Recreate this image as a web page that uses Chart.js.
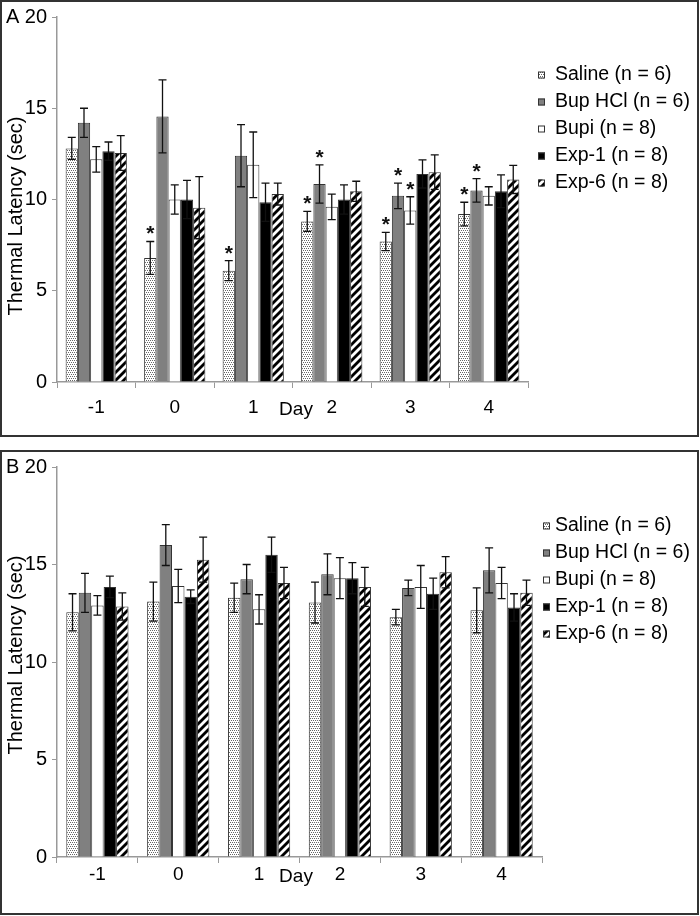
<!DOCTYPE html>
<html>
<head>
<meta charset="utf-8">
<script src="https://cdn.jsdelivr.net/npm/chart.js@4.4.1/dist/chart.umd.min.js"></script>
<style>
    html, body { margin: 0; padding: 0; background: #fff; }
    .panel { position: absolute; left: 0; width: 700px; }
    #wrapA { top: 0; height: 438px; }
    #wrapB { top: 450px; height: 466px; }
</style>
</head>
<body>
<div class="panel" id="wrapA"><canvas id="chartA"></canvas></div>
<div class="panel" id="wrapB"><canvas id="chartB"></canvas></div>
<script>
// Thermal latency per day, two panels (A, B)
const days = ['-1', '0', '1', '2', '3', '4'];
const groupNames = ['Saline (n = 6)', 'Bup HCl (n = 6)', 'Bupi (n = 8)', 'Exp-1 (n = 8)', 'Exp-6 (n = 8)'];
const yTicks = [0, 5, 10, 15, 20];

// Panel A
const salineA = [12.8, 6.8, 6.1, 8.8, 7.7, 9.2];
const bupHclA = [14.2, 14.55, 12.4, 10.85, 10.2, 10.5];
const bupiA   = [12.2, 10.0, 11.9, 9.6, 9.4, 10.2];
const exp1A   = [12.65, 10.0, 9.85, 10.0, 11.4, 10.45];
const exp6A   = [12.55, 9.55, 10.3, 10.45, 11.5, 11.1];
const salineErrA = [0.6, 0.9, 0.55, 0.55, 0.5, 0.65];
const bupHclErrA = [0.8, 2.0, 1.7, 1.05, 0.7, 0.64];
const bupiErrA   = [0.7, 0.8, 1.8, 0.7, 0.75, 0.5];
const exp1ErrA   = [0.5, 1.05, 1.05, 0.8, 0.77, 0.9];
const exp6ErrA   = [0.95, 1.7, 0.6, 0.55, 0.95, 0.77];
const salineStarA = [false, true, true, true, true, true];
const bupHclStarA = [false, false, false, true, true, true];
const bupiStarA   = [false, false, false, false, true, false];

// Panel B
const salineB = [12.55, 13.1, 13.3, 13.05, 12.3, 12.65];
const bupHclB = [13.55, 16.0, 14.25, 14.5, 13.8, 14.7];
const bupiB   = [12.9, 13.9, 12.7, 14.3, 13.85, 14.05];
const exp1B   = [13.85, 13.35, 15.5, 14.3, 13.5, 12.8];
const exp6B   = [12.85, 15.25, 14.05, 13.85, 14.6, 13.55];
const salineErrB = [0.95, 1.0, 0.75, 1.05, 0.4, 1.15];
const bupHclErrB = [1.0, 1.05, 0.75, 1.05, 0.4, 1.15];
const bupiErrB   = [0.5, 0.85, 0.75, 1.05, 1.1, 0.8];
const exp1ErrB   = [0.55, 0.35, 0.9, 0.8, 0.8, 0.7];
const exp6ErrB   = [0.7, 1.15, 0.8, 1.0, 0.8, 0.65];

const FONT = "'Liberation Sans', Arial, sans-serif";
Chart.defaults.font.family = FONT;
Chart.defaults.color = '#000';

// --- fill patterns ---
function dotPattern() {
    const c = document.createElement('canvas');
    c.width = 4; c.height = 4;
    const g = c.getContext('2d');
    g.fillStyle = '#fff'; g.fillRect(0, 0, 4, 4);
    g.fillStyle = '#666';
    g.fillRect(0, 0, 1, 1);
    g.fillRect(2, 0, 1, 1);
    g.fillRect(1, 2, 1, 1);
    g.fillRect(3, 2, 1, 1);
    return g.createPattern(c, 'repeat');
}
function stripePattern() {
    const c = document.createElement('canvas');
    c.width = 8; c.height = 8;
    const g = c.getContext('2d');
    g.fillStyle = '#fff'; g.fillRect(0, 0, 8, 8);
    g.strokeStyle = '#000'; g.lineWidth = 2.8;
    [[-4, 4, 4, -4], [0, 8, 8, 0], [4, 12, 12, 4]].forEach(s => {
        g.beginPath(); g.moveTo(s[0], s[1]); g.lineTo(s[2], s[3]); g.stroke();
    });
    return g.createPattern(c, 'repeat');
}
const fills = [dotPattern(), '#808080', '#ffffff', '#000000', stripePattern()];

// error bars, asterisks, legend, labels, frame
const extras = {
    id: 'extras',
    afterDatasetsDraw(chart, args, o) {
        const ctx = chart.ctx, y = chart.scales.y;
        ctx.save();
        chart.data.datasets.forEach((ds, i) => {
            chart.getDatasetMeta(i).data.forEach((bar, j) => {
                const v = ds.data[j], e = ds.errors[j];
                const top = y.getPixelForValue(v + e), bot = y.getPixelForValue(v - e);
                ctx.strokeStyle = '#111';
                ctx.lineWidth = 1.3;
                ctx.beginPath();
                ctx.moveTo(bar.x, top); ctx.lineTo(bar.x, bot);
                ctx.moveTo(bar.x - 4, top); ctx.lineTo(bar.x + 4, top);
                ctx.moveTo(bar.x - 4, bot); ctx.lineTo(bar.x + 4, bot);
                ctx.stroke();
                if (ds.stars && ds.stars[j]) {
                    ctx.fillStyle = '#111';
                    ctx.font = 'bold 21px ' + FONT;
                    ctx.textAlign = 'center';
                    ctx.textBaseline = 'alphabetic';
                    ctx.fillText('*', bar.x, top - 1);
                }
            });
        });
        ctx.restore();
    },
    afterDraw(chart, args, o) {
        const ctx = chart.ctx, y = chart.scales.y;
        ctx.save();
        // frame
        ctx.strokeStyle = '#333';
        ctx.lineWidth = 2;
        ctx.strokeRect(1, 1, chart.width - 3, chart.height - 3);
        // panel letter
        ctx.fillStyle = '#000';
        ctx.font = '20px ' + FONT;
        ctx.textAlign = 'left';
        ctx.textBaseline = 'middle';
        ctx.fillText(o.letter, 6, y.getPixelForValue(20));
        // x title
        ctx.font = '19px ' + FONT;
        ctx.textAlign = 'center';
        ctx.fillText('Day', o.dayX, o.dayY);
        // y title
        ctx.save();
        ctx.translate(16, o.titleY);
        ctx.rotate(-Math.PI / 2);
        ctx.font = '20px ' + FONT;
        ctx.fillText('Thermal Latency (sec)', 0, 0);
        ctx.restore();
        // legend
        chart.data.datasets.forEach((ds, i) => {
            const ry = o.legendY + i * 27;
            ctx.fillStyle = ds.backgroundColor;
            ctx.fillRect(o.swatchX, ry - 3.5, 7, 7);
            ctx.strokeStyle = '#333';
            ctx.lineWidth = 1;
            ctx.strokeRect(o.swatchX + 0.5, ry - 3, 6, 6);
            ctx.fillStyle = '#000';
            ctx.font = '19.5px ' + FONT;
            ctx.textAlign = 'left';
            ctx.textBaseline = 'middle';
            ctx.fillText(ds.label, 555, ry);
        });
        ctx.restore();
    }
};

function makeChart(id, series, errs, stars, cfg) {
    const datasets = series.map((d, i) => ({
        label: groupNames[i],
        data: d,
        errors: errs[i],
        stars: stars[i],
        backgroundColor: fills[i],
        borderColor: '#333',
        borderWidth: 1,
        barPercentage: 1,
        categoryPercentage: cfg.catPct
    }));
    return new Chart(document.getElementById(id), {
        type: 'bar',
        data: { labels: days, datasets: datasets },
        options: {
            responsive: true,
            maintainAspectRatio: false,
            animation: false,
            layout: { padding: { left: 0, top: 16, right: cfg.padRight, bottom: 0 } },
            plugins: {
                legend: { display: false },
                tooltip: { enabled: false },
                extras: cfg.extras
            },
            scales: {
                x: {
                    offset: true,
                    grid: { offset: true, drawOnChartArea: false, tickLength: 6, color: '#999' },
                    border: { color: '#999', width: 1.5 },
                    ticks: { font: { size: 19 }, color: '#000', padding: cfg.tickPad },
                    afterFit: s => { s.height = cfg.xHeight; }
                },
                y: {
                    min: 0,
                    max: 20,
                    afterBuildTicks: s => { s.ticks = yTicks.map(v => ({ value: v })); },
                    grid: { drawOnChartArea: false, tickLength: 5, color: '#999' },
                    border: { color: '#999', width: 1.5 },
                    ticks: { font: { size: 20 }, color: '#000', padding: 5 },
                    afterFit: s => { s.width = 57; }
                }
            }
        },
        plugins: [extras]
    });
}

makeChart('chartA',
    [salineA, bupHclA, bupiA, exp1A, exp6A],
    [salineErrA, bupHclErrA, bupiErrA, exp1ErrA, exp6ErrA],
    [salineStarA, bupHclStarA, bupiStarA, null, null],
    { catPct: 0.78, padRight: 172, xHeight: 56, tickPad: 8,
      extras: { letter: 'A', dayX: 296, dayY: 410, titleY: 216, legendY: 75, swatchX: 538 } });

makeChart('chartB',
    [salineB, bupHclB, bupiB, exp1B, exp6B],
    [salineErrB, bupHclErrB, bupiErrB, exp1ErrB, exp6ErrB],
    [null, null, null, null, null],
    { catPct: 0.77, padRight: 158, xHeight: 59, tickPad: 0,
      extras: { letter: 'B', dayX: 296, dayY: 427, titleY: 205, legendY: 76, swatchX: 543 } });
</script>
</body>
</html>
